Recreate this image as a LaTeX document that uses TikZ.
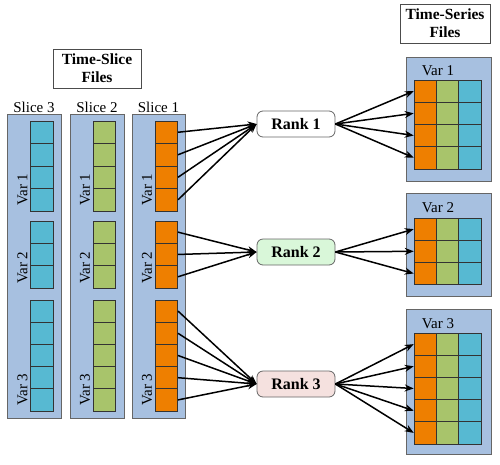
\documentclass[tikz,border=0pt]{standalone}
\usepackage{fontspec}
\setmainfont{Liberation Serif}
\usetikzlibrary{arrows.meta,shadows}
\definecolor{panelblue}{HTML}{A7C0E0}
\definecolor{cellorange}{HTML}{EE7F00}
\definecolor{cellgreen}{HTML}{A8C46B}
\definecolor{cellcyan}{HTML}{57B9D2}
\definecolor{rankgreen}{HTML}{D9F7D9}
\definecolor{rankpink}{HTML}{F5E1DF}

\begin{document}
\begin{tikzpicture}[x=1pt, y=-1pt,
    font=\fontsize{15}{18}\selectfont,
    >={Stealth[length=9pt,width=7pt]},
    panel/.style={draw=black!60, fill=panelblue, line width=.8pt,
        drop shadow={shadow xshift=1.2pt, shadow yshift=-1.2pt, opacity=.35}},
    cell/.style={draw=black!80, minimum width=22.5pt, minimum height=22.3pt, inner sep=0pt, line width=.6pt},
    rank/.style={draw=black!60, line width=.8pt, rounded corners=6pt, minimum width=78pt, minimum height=26pt, font=\fontsize{16}{18}\selectfont\bfseries},
    title/.style={draw=black!70, align=center, inner sep=0pt, font=\fontsize{15.5}{18}\selectfont\bfseries},
    varlabel/.style={rotate=90, anchor=west, inner sep=0pt},
    link/.style={->, line width=1.5pt}]
            \useasboundingbox (0,0) rectangle (500,464);

            % file headings
            \draw (97,68.5) node[title, minimum width=88pt, minimum height=39pt] (slicefiles) {Time-Slice\\Files};
            \draw (445,23.5) node[title, minimum width=90pt, minimum height=39pt] (seriesfiles) {Time-Series\\Files};

            % time-slice panels
            \draw[panel] (7,114) rectangle (61,418);
            \draw[panel] (70,114) rectangle (124,418);
            \draw[panel] (132,114) rectangle (185,418);
            \draw (34,107) node (slice3) {Slice 3};
            \draw (97,107) node (slice2) {Slice 2};
            \draw (158.5,107) node (slice1) {Slice 1};

            \foreach \s/\x/\col in {3/42/cellcyan, 2/104.5/cellgreen, 1/166.5/cellorange} {
                \foreach \i in {1,...,4}
                    \draw (\x,{121+(\i-0.5)*22.5}) node[cell, fill=\col] (s\s-v1-\i) {};
                \foreach \i in {1,...,3}
                    \draw (\x,{221+(\i-0.5)*22.3}) node[cell, fill=\col] (s\s-v2-\i) {};
                \foreach \i in {1,...,5}
                    \draw (\x,{300+(\i-0.5)*22.2}) node[cell, fill=\col] (s\s-v3-\i) {};
                \draw (\x-19.5,206) node[varlabel] (s\s-lab1) {Var 1};
                \draw (\x-19.5,284) node[varlabel] (s\s-lab2) {Var 2};
                \draw (\x-19.5,406) node[varlabel] (s\s-lab3) {Var 3};
            }

            % ranks
            \draw (296,124) node[rank, fill=white] (r1) {Rank 1};
            \draw (296,252) node[rank, fill=rankgreen] (r2) {Rank 2};
            \draw (296,384) node[rank, fill=rankpink] (r3) {Rank 3};

            % time-series panels
            \draw[panel] (406,57) rectangle (491,181);
            \draw[panel] (406,193) rectangle (491,296);
            \draw[panel] (406,309) rectangle (491,454);
            \draw (438,71) node (t1-lab) {Var 1};
            \draw (438,208) node (t2-lab) {Var 2};
            \draw (438,324) node (t3-lab) {Var 3};

            \foreach \v/\top/\n in {1/80/4, 2/218/3, 3/333/5} {
                \foreach \i in {1,...,\n} {
                    \draw (425.2,{\top+(\i-0.5)*22.2}) node[cell, minimum width=22.3pt, fill=cellorange] (t\v-\i) {};
                    \draw (447.5,{\top+(\i-0.5)*22.2}) node[cell, minimum width=22.3pt, fill=cellgreen] (t\v-\i-g) {};
                    \draw (469.8,{\top+(\i-0.5)*22.2}) node[cell, minimum width=22.3pt, fill=cellcyan] (t\v-\i-c) {};
                }
            }

            % slice 1 to ranks
            \foreach \i in {1,...,4} \draw[link] (s1-v1-\i.east) -- (r1.west);
            \foreach \i in {1,...,3} \draw[link] (s1-v2-\i.east) -- (r2.west);
            \foreach \i in {1,...,5} \draw[link] (s1-v3-\i.east) -- (r3.west);

            % ranks to time-series
            \foreach \i in {1,...,4} \draw[link] (r1.east) -- (t1-\i.west);
            \foreach \i in {1,...,3} \draw[link] (r2.east) -- (t2-\i.west);
            \foreach \i in {1,...,5} \draw[link] (r3.east) -- (t3-\i.west);
        \end{tikzpicture}
\end{document}
